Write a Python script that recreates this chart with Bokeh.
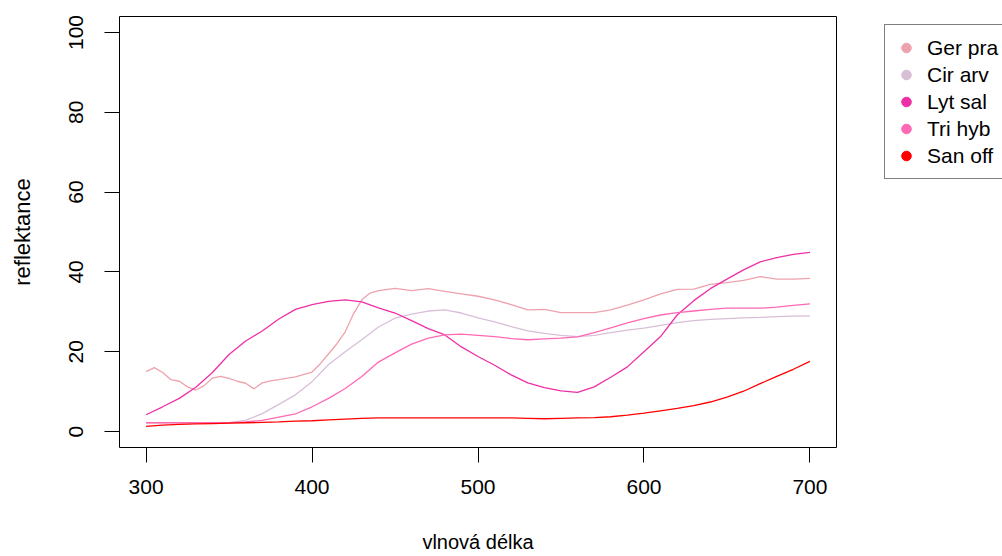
from bokeh.plotting import figure
from bokeh.models import Range1d, FixedTicker, Legend, LegendItem
from bokeh.layouts import row
from bokeh.embed import file_html
from bokeh.resources import INLINE

# wavelengths (nm)
wl = [300, 310, 320, 330, 340, 350, 360, 370, 380, 390, 400, 410, 420, 430, 440,
      450, 460, 470, 480, 490, 500, 510, 520, 530, 540, 550, 560, 570, 580, 590,
      600, 610, 620, 630, 640, 650, 660, 670, 680, 690, 700]

wl_ger = [300, 305, 310, 315, 320, 325, 330, 335, 340, 345, 350, 355, 360, 365, 370,
          375, 380, 390, 400, 405, 410, 415, 420, 425, 430, 435, 440, 450, 460, 470,
          480, 490, 500, 510, 520, 530, 540, 550, 560, 570, 580, 590, 600, 610, 620,
          630, 640, 650, 660, 670, 680, 690, 700]
ger_pra = [15.0, 16.0, 14.8, 13.0, 12.6, 11.2, 10.4, 11.5, 13.4, 13.8, 13.3, 12.6, 12.1, 10.7, 12.2,
           12.7, 13.0, 13.7, 14.9, 17.0, 19.5, 22.0, 25.0, 29.5, 33.0, 34.7, 35.3, 35.9, 35.3, 35.8,
           35.1, 34.5, 33.9, 33.0, 31.8, 30.5, 30.6, 29.8, 29.8, 29.8, 30.5, 31.7, 33.0, 34.5, 35.6,
           35.7, 36.9, 37.3, 37.9, 38.8, 38.2, 38.2, 38.4]

cir_arv = [2.2, 2.2, 2.2, 2.2, 2.2, 2.2, 2.8, 4.5, 6.8, 9.2, 12.5, 16.8, 20.0, 23.0, 26.2,
           28.4, 29.4, 30.2, 30.5, 29.7, 28.5, 27.5, 26.3, 25.2, 24.6, 24.1, 23.8, 24.1, 24.8, 25.4,
           25.9, 26.6, 27.3, 27.8, 28.1, 28.3, 28.5, 28.6, 28.8, 28.9, 29.0]

lyt_sal = [4.2, 6.2, 8.3, 11.1, 14.8, 19.3, 22.7, 25.2, 28.2, 30.6, 31.8, 32.6, 33.0, 32.5, 31.0,
           29.7, 27.8, 25.8, 24.2, 21.2, 18.8, 16.6, 14.2, 12.2, 11.0, 10.2, 9.8, 11.2, 13.6, 16.2,
           20.0, 23.8, 29.2, 32.8, 35.8, 38.2, 40.5, 42.5, 43.6, 44.4, 44.9]

tri_hyb = [2.2, 2.2, 2.2, 2.2, 2.2, 2.2, 2.4, 2.8, 3.6, 4.4, 6.2, 8.3, 10.8, 13.8, 17.4,
           19.7, 21.9, 23.4, 24.2, 24.4, 24.1, 23.8, 23.3, 23.0, 23.2, 23.4, 23.7, 24.8, 26.0, 27.2,
           28.3, 29.2, 29.8, 30.2, 30.6, 30.9, 30.9, 30.9, 31.2, 31.6, 32.0]

san_off = [1.3, 1.6, 1.8, 1.9, 2.0, 2.1, 2.2, 2.3, 2.4, 2.6, 2.7, 2.9, 3.1, 3.3, 3.4,
           3.4, 3.4, 3.4, 3.4, 3.4, 3.4, 3.4, 3.4, 3.3, 3.2, 3.3, 3.4, 3.5, 3.7, 4.1,
           4.6, 5.2, 5.8, 6.5, 7.4, 8.6, 10.1, 12.0, 13.8, 15.6, 17.6]

species = ["Ger pra", "Cir arv", "Lyt sal", "Tri hyb", "San off"]
colors = ["#EEA2AD", "#D8BFD8", "#EE30A7", "#FF69B4", "#FF0000"]
x_ticks = [300, 400, 500, 600, 700]
y_ticks = [0, 20, 40, 60, 80, 100]

FONT = "Liberation Sans"

p = figure(width=870, height=556, x_range=Range1d(284, 716), y_range=Range1d(-4, 104),
           output_backend="svg", toolbar_location=None,
           min_border_left=119, min_border_right=34, min_border_top=16, min_border_bottom=109,
           x_axis_label="vlnová délka", y_axis_label="reflektance")

p.background_fill_color = "white"
p.border_fill_color = "white"
p.outline_line_color = "black"
p.outline_line_width = 1
p.xgrid.visible = False
p.ygrid.visible = False

for ax, ticks in ((p.xaxis[0], x_ticks), (p.yaxis[0], y_ticks)):
    ax.ticker = FixedTicker(ticks=ticks)
    ax.axis_line_color = None
    ax.major_tick_in = 0
    ax.major_tick_out = 15
    ax.major_tick_line_color = "black"
    ax.minor_tick_line_color = None
    ax.major_label_text_font = FONT
    ax.major_label_text_font_size = "21px"
    ax.major_label_text_color = "black"
    ax.axis_label_text_font = FONT
    ax.axis_label_text_font_style = "normal"
    ax.axis_label_text_color = "black"

p.xaxis.major_label_standoff = 17
p.xaxis.axis_label_text_font_size = "20px"
p.xaxis.axis_label_standoff = 34
p.yaxis.major_label_orientation = "vertical"
p.yaxis.major_label_standoff = 21
p.yaxis.axis_label_text_font_size = "22px"
p.yaxis.axis_label_standoff = 32

series_x = [wl_ger, wl, wl, wl, wl]
series_y = [ger_pra, cir_arv, lyt_sal, tri_hyb, san_off]
for xs, ys, c in zip(series_x, series_y, colors):
    p.line(xs, ys, line_color=c, line_width=1.3)

# legend panel to the right (its box runs past the window edge, as in the reference)
q = figure(width=132, height=556, x_range=Range1d(0, 1), y_range=Range1d(0, 1),
           output_backend="svg", toolbar_location=None,
           x_axis_type=None, y_axis_type=None,
           min_border_left=0, min_border_right=0, min_border_top=0, min_border_bottom=0)
q.outline_line_color = None
q.xgrid.visible = False
q.ygrid.visible = False
q.background_fill_color = "white"
q.border_fill_color = "white"

items = []
for name, c in zip(species, colors):
    r = q.scatter([-10], [-10], size=10, fill_color=c, line_color=c, marker="circle")
    items.append(LegendItem(label=name, renderers=[r]))

legend = Legend(items=items, location=(14, 268), orientation="vertical",
                padding=9, spacing=0, glyph_width=24, glyph_height=27, label_height=27,
                label_standoff=9, margin=0,
                label_text_font=FONT, label_text_font_size="21px", label_text_color="black",
                border_line_color="black", border_line_width=1,
                background_fill_color="white", background_fill_alpha=1)
q.add_layout(legend, "center")

layout = row(p, q, spacing=0)
open("out.html", "w").write(file_html(layout, INLINE))
